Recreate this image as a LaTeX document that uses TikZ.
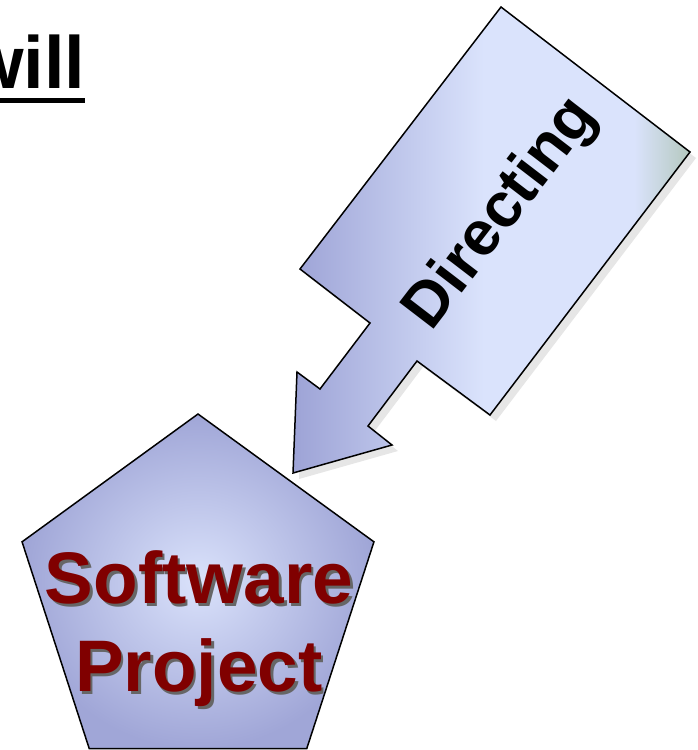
\documentclass[tikz,border=0pt]{standalone}
\usepackage{fontspec}
\setmainfont{Liberation Sans}
\usetikzlibrary{shapes.geometric,shadows}

\definecolor{arrdark}{RGB}{157,163,214}
\definecolor{arrlight}{RGB}{218,227,252}
\definecolor{arrgreen}{RGB}{180,200,190}
\definecolor{pentlight}{RGB}{218,226,251}
\definecolor{pentedge}{RGB}{160,166,215}
\definecolor{projred}{RGB}{128,0,0}

\pgfdeclarehorizontalshading{arrowshade}{100bp}{color(0bp)=(arrdark); color(25bp)=(arrdark); color(49bp)=(arrlight); color(68bp)=(arrlight); color(75bp)=(arrgreen); color(100bp)=(arrgreen)}

% text with a dark copy behind it
\newcommand{\shtext}[1]{\makebox[0pt][l]{\hspace{2.5pt}\raisebox{-2.5pt}{\color{black!60}#1}}#1}
% word with a thick bar under it
\newcommand{\ulword}[1]{\setbox0\hbox{#1}\rlap{\rule[-15pt]{\wd0}{5pt}}\box0}

\tikzset{
  arrowbody/.style={draw=black, line width=1.5pt, line join=miter, shading=arrowshade,
    drop shadow={shadow xshift=6pt, shadow yshift=-6pt, opacity=0.2}},
  pentagon/.style={regular polygon, regular polygon sides=5, draw=black, line width=1.5pt,
    inner sep=0pt, inner color=pentlight, outer color=pentedge},
  projtext/.style={align=center, text=projred, font=\fontsize{73}{88}\selectfont\bfseries},
  arrowtext/.style={font=\fontsize{63}{70}\selectfont\bfseries, rotate=52.5},
}

\begin{document}
\begin{tikzpicture}[x=1pt, y=-1pt]
\useasboundingbox (0,0) rectangle (698,750);

% heading, cut at the left
\node [anchor=base east, font=\fontsize{74}{80}\selectfont\bfseries] (will) at (89,88) {\ulword{will}};

% block arrow
\path [arrowbody] (501,7) -- (690,152) -- (490,415) -- (417,361) -- (368,426) -- (392,445)
  -- (293,473) -- (297,372) -- (320,389) -- (370,323) -- (300,269) -- cycle;
\node [arrowtext] (directing) at (502,214) {Directing};

% the project
\node [pentagon, minimum size=370pt] (proj) at (198,599) {};
\node [projtext] (projlabel) at (199,630) {\shtext{Software}\\\shtext{Project}};
\end{tikzpicture}
\end{document}
